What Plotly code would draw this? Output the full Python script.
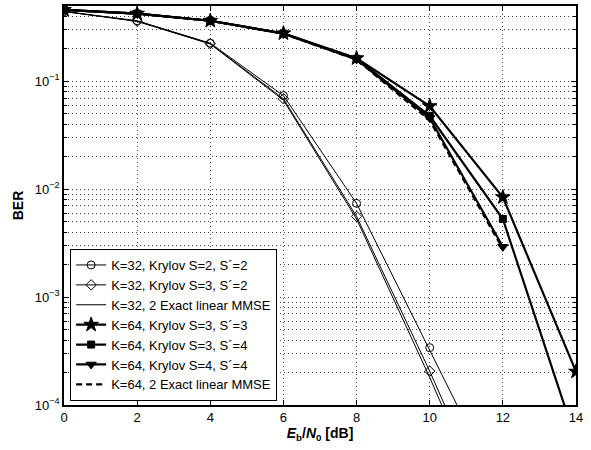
import math
import plotly.graph_objects as go

snr = [0, 2, 4, 6, 8, 10, 12, 14]

k32_s2 = [0.445, 0.365, 0.226, 0.0738, 0.0074, 3.4e-4, 1.4e-5]
k32_s3 = [0.445, 0.362, 0.224, 0.069, 0.0056, 2.06e-4, 6e-6]
k32_exact = [0.445, 0.360, 0.222, 0.067, 0.0053, 1.8e-4, 5e-6]
k64_s3_3 = [0.46, 0.425, 0.365, 0.279, 0.164, 0.0590, 0.00844, 2.04e-4]
k64_s3_4 = [0.46, 0.425, 0.365, 0.278, 0.162, 0.048, 0.0053, 4.7e-5]
k64_s4_4 = [0.46, 0.425, 0.365, 0.277, 0.160, 0.0457, 0.00293]
k64_exact = [0.46, 0.425, 0.365, 0.277, 0.159, 0.0435, 0.0028]

names = [
    "K=32, Krylov S=2, S´=2",
    "K=32, Krylov S=3, S´=2",
    "K=32, 2 Exact linear MMSE",
    "K=64, Krylov S=3, S´=3",
    "K=64, Krylov S=3, S´=4",
    "K=64, Krylov S=4, S´=4",
    "K=64, 2 Exact linear MMSE",
]

decade_vals = [1e-4, 1e-3, 1e-2, 1e-1]
decade_labels = ["10<sup>−4</sup>", "10<sup>−3</sup>", "10<sup>−2</sup>", "10<sup>−1</sup>"]
x_ticks = [0, 2, 4, 6, 8, 10, 12, 14]

fig = go.Figure()

def add(y, name, width, symbol=None, msize=8, dash="solid"):
    mode = "lines+markers" if symbol else "lines"
    marker = None
    if symbol:
        marker = dict(symbol=symbol, size=msize, color="black",
                      line=dict(color="black", width=1))
    fig.add_trace(go.Scatter(
        x=snr[:len(y)], y=y, name=name, mode=mode,
        line=dict(color="black", width=width, dash=dash),
        marker=marker,
    ))

add(k32_s2, names[0], 1, "circle-open", 8)
add(k32_s3, names[1], 1, "diamond-open", 8)
add(k32_exact, names[2], 1)
add(k64_s3_3, names[3], 2.2, "star", 11)
add(k64_s3_4, names[4], 2.2, "square", 7)
add(k64_s4_4, names[5], 2.2, "triangle-down", 9)
add(k64_exact, names[6], 2.2, None, dash="6px,4px")

grid = dict(showgrid=True, gridcolor="#444", gridwidth=1, griddash="1px,3px")

fig.update_layout(
    width=591, height=450,
    margin=dict(l=64, r=15, t=4, b=45),
    paper_bgcolor="white", plot_bgcolor="white",
    font=dict(family="Liberation Sans, Arial", size=13, color="black"),
    showlegend=True,
    legend=dict(
        x=0.012, y=0.01, xanchor="left", yanchor="bottom",
        bgcolor="white", bordercolor="black", borderwidth=1,
        font=dict(size=13), tracegroupgap=0,
        itemwidth=30,
    ),
    xaxis=dict(
        range=[0, 14], tickvals=x_ticks, ticks="inside", ticklen=5,
        tickcolor="black", showline=True, linecolor="black", linewidth=1.5,
        mirror="ticks", zeroline=False,
        title=dict(text="<b><i>E</i><sub>b</sub>/<i>N</i><sub>0</sub> [dB]</b>",
                   font=dict(size=14), standoff=2),
        **grid,
    ),
    yaxis=dict(
        type="log", range=[-4, math.log10(0.5)],
        tickvals=decade_vals, ticktext=decade_labels, ticks="inside", ticklen=5,
        tickcolor="black", showline=True, linecolor="black", linewidth=1.5,
        mirror="ticks", zeroline=False,
        title=dict(text="<b>BER</b>", font=dict(size=14), standoff=8),
        minor=dict(dtick="D1", ticks="inside", ticklen=3, tickcolor="black",
                   showgrid=True, gridcolor="#444", griddash="1px,3px"),
        **grid,
    ),
)

fig.write_html("out.html", config={"displayModeBar": False},
               post_script="document.body.style.margin='0';")
